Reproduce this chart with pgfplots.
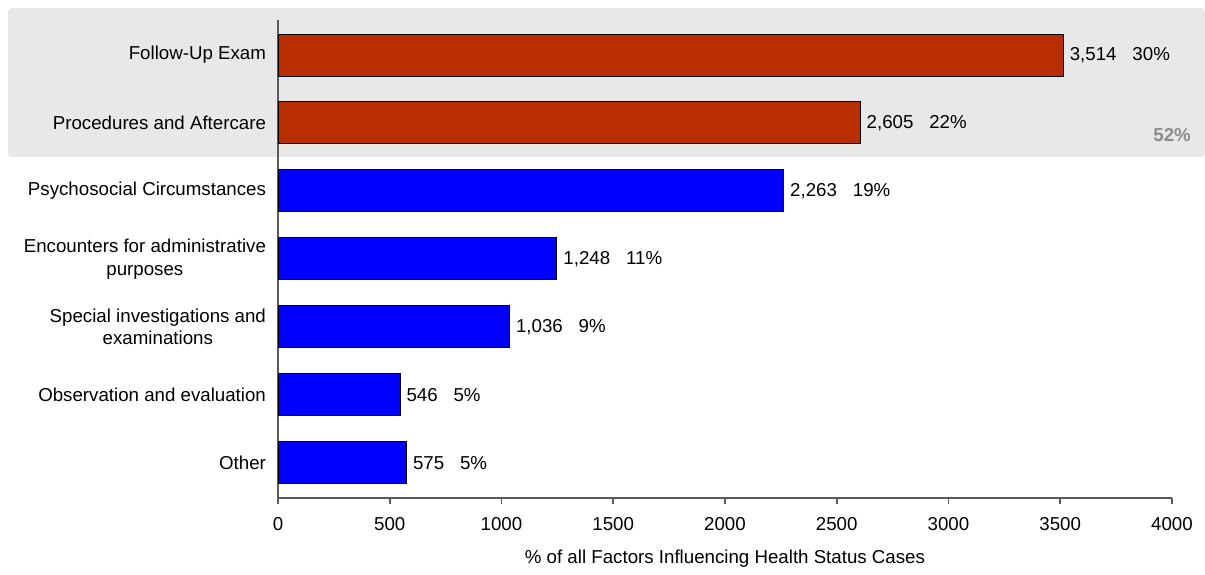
\documentclass[border=0pt]{standalone}
\usepackage{pgfplots}
\pgfplotsset{compat=1.18}
\usepackage{fontspec}
\setmainfont{Liberation Sans}
\definecolor{barred}{RGB}{184,46,0}
\definecolor{bandgrey}{RGB}{232,232,232}
\definecolor{axisgrey}{RGB}{90,90,90}
\definecolor{pctgrey}{RGB}{140,140,140}
\newcommand{\cf}{\fontsize{9.35}{11.2}\selectfont}
\begin{document}
\begin{tikzpicture}
\begin{axis}[
  set layers,
  scale only axis, width=447pt, height=239pt,
  xmin=0, xmax=4000, ymin=-0.515, ymax=6.515,
  xbar, bar width=21pt, bar shift=0pt,
  axis x line*=bottom, axis y line*=left,
  axis line style={axisgrey, line width=0.8pt},
  xtick={0,500,...,4000},
  ytick={0,...,6},
  yticklabels={Other, Observation and evaluation, {Special investigations and\\examinations}, {Encounters for administrative\\purposes}, Psychosocial Circumstances, Procedures and Aftercare, Follow-Up Exam},
  yticklabel style={align=center, font=\cf, xshift=0.5pt},
  ytick style={draw=none},
  tick align=outside, major tick length=3pt,
  xtick style={axisgrey, line width=0.8pt},
  xticklabel style={font=\cf, yshift=-3pt},
  scaled x ticks=false,
  /pgf/number format/assume math mode=true,
  /pgf/number format/set thousands separator={},
  xlabel={\% of all Factors Influencing Health Status Cases},
  xlabel style={font=\cf, yshift=-3pt},
  clip=false,
  point meta=explicit symbolic,
  nodes near coords,
  nodes near coords style={anchor=west, font=\cf, inner sep=2pt, xshift=1pt, text=black},
]
\begin{pgfonlayer}{axis background}
\fill[bandgrey, rounded corners=2pt] (axis cs:-1208,4.5) rectangle (axis cs:4148,6.69);
\end{pgfonlayer}
\path (axis cs:-1244,-1.559) rectangle (axis cs:4148,6.809);
\addplot[fill=barred, draw=black, line width=0.5pt] coordinates {
  (3514,6) [{3,514\hspace{0.85em}30\%}]
  (2605,5) [{2,605\hspace{0.85em}22\%}]
};
\addplot[fill=blue, draw=black, line width=0.5pt] coordinates {
  (2263,4) [{2,263\hspace{0.85em}19\%}]
  (1248,3) [{1,248\hspace{0.85em}11\%}]
  (1036,2) [{1,036\hspace{0.85em}9\%}]
  (546,1) [{546\hspace{0.85em}5\%}]
  (575,0) [{575\hspace{0.85em}5\%}]
};
\node[anchor=east, font=\cf\bfseries, text=pctgrey] at (axis cs:4116,4.82) {52\%};
\end{axis}
\end{tikzpicture}
\end{document}
